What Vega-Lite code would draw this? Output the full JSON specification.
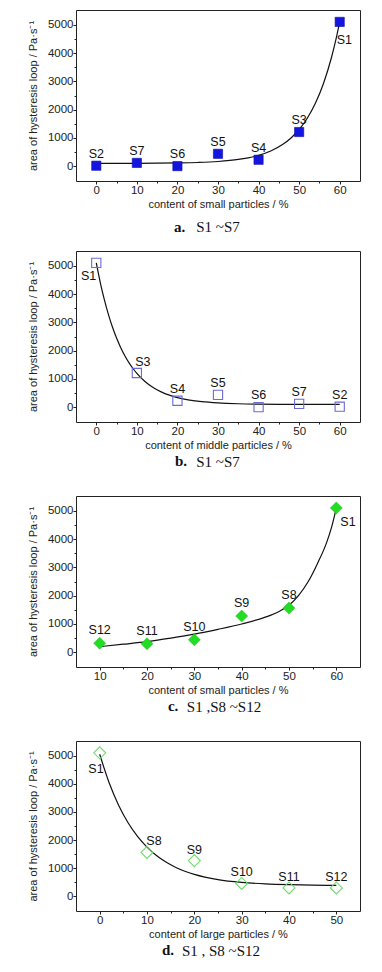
{
  "$schema": "https://vega.github.io/schema/vega-lite/v6.json",
  "background": "white",
  "padding": {"left": 26, "top": 9, "right": 0, "bottom": 0},
  "config": {
    "font": "Liberation Sans",
    "view": {"stroke": "#222222", "strokeWidth": 1},
    "axis": {
      "grid": false,
      "domain": false,
      "labelFont": "Liberation Sans",
      "labelFontSize": 11.5,
      "labelColor": "#222222",
      "labelPadding": 0,
      "tickColor": "#222222",
      "titleFont": "Liberation Sans",
      "titleFontSize": 11,
      "titleFontWeight": "normal",
      "titleColor": "#222222"
    },
    "title": {"font": "Liberation Serif", "fontSize": 15, "color": "#111111"},
    "text": {"font": "Liberation Sans", "fontSize": 12.5, "color": "#111111"}
  },
  "datasets": {
    "pa": [
      {"x": 0, "y": 20, "label": "S2"},
      {"x": 10, "y": 120, "label": "S7"},
      {"x": 20, "y": 5, "label": "S6"},
      {"x": 30, "y": 440, "label": "S5"},
      {"x": 40, "y": 230, "label": "S4"},
      {"x": 50, "y": 1210, "label": "S3"},
      {"x": 60, "y": 5100, "label": "S1"}
    ],
    "pb": [
      {"x": 0, "y": 5100, "label": "S1"},
      {"x": 10, "y": 1210, "label": "S3"},
      {"x": 20, "y": 230, "label": "S4"},
      {"x": 30, "y": 440, "label": "S5"},
      {"x": 40, "y": 5, "label": "S6"},
      {"x": 50, "y": 120, "label": "S7"},
      {"x": 60, "y": 20, "label": "S2"}
    ],
    "pc": [
      {"x": 10, "y": 320, "label": "S12"},
      {"x": 20, "y": 300, "label": "S11"},
      {"x": 30, "y": 440, "label": "S10"},
      {"x": 40, "y": 1280, "label": "S9"},
      {"x": 50, "y": 1560, "label": "S8"},
      {"x": 60, "y": 5100, "label": "S1"}
    ],
    "pd": [
      {"x": 0, "y": 5100, "label": "S1"},
      {"x": 10, "y": 1560, "label": "S8"},
      {"x": 20, "y": 1270, "label": "S9"},
      {"x": 30, "y": 460, "label": "S10"},
      {"x": 40, "y": 300, "label": "S11"},
      {"x": 50, "y": 300, "label": "S12"}
    ],
    "ca": [
      {"x": 0, "y": 101}, {"x": 10, "y": 104}, {"x": 20, "y": 117}, {"x": 25, "y": 134},
      {"x": 30, "y": 169}, {"x": 35, "y": 241}, {"x": 40, "y": 387}, {"x": 43, "y": 541},
      {"x": 46, "y": 777}, {"x": 48, "y": 1001}, {"x": 50, "y": 1299}, {"x": 52, "y": 1696},
      {"x": 54, "y": 2224}, {"x": 56, "y": 2926}, {"x": 58, "y": 3859}, {"x": 59, "y": 4437},
      {"x": 60, "y": 5100}
    ],
    "cb": [
      {"x": 0, "y": 5100}, {"x": 1, "y": 4397}, {"x": 2, "y": 3793}, {"x": 3, "y": 3274},
      {"x": 4, "y": 2828}, {"x": 5, "y": 2444}, {"x": 6, "y": 2115}, {"x": 7, "y": 1831},
      {"x": 8, "y": 1588}, {"x": 9, "y": 1379}, {"x": 10, "y": 1199}, {"x": 12, "y": 912},
      {"x": 14, "y": 699}, {"x": 16, "y": 543}, {"x": 18, "y": 427}, {"x": 20, "y": 341},
      {"x": 23, "y": 253}, {"x": 26, "y": 197}, {"x": 30, "y": 153}, {"x": 35, "y": 125},
      {"x": 40, "y": 112}, {"x": 45, "y": 105}, {"x": 50, "y": 103}, {"x": 60, "y": 100}
    ],
    "cc": [
      {"x": 10, "y": 200}, {"x": 15, "y": 285}, {"x": 20, "y": 375}, {"x": 25, "y": 500},
      {"x": 30, "y": 640}, {"x": 35, "y": 810}, {"x": 40, "y": 1000}, {"x": 45, "y": 1240},
      {"x": 48, "y": 1450}, {"x": 50, "y": 1660}, {"x": 52, "y": 2000}, {"x": 54, "y": 2480},
      {"x": 56, "y": 3130}, {"x": 58, "y": 3900}, {"x": 59, "y": 4420}, {"x": 60, "y": 5090}
    ],
    "cd": [
      {"x": 0, "y": 5050}, {"x": 2, "y": 4035}, {"x": 4, "y": 3239}, {"x": 6, "y": 2617},
      {"x": 8, "y": 2131}, {"x": 10, "y": 1750}, {"x": 12, "y": 1451}, {"x": 14, "y": 1218},
      {"x": 16, "y": 1036}, {"x": 18, "y": 893}, {"x": 20, "y": 782}, {"x": 25, "y": 597},
      {"x": 30, "y": 498}, {"x": 35, "y": 444}, {"x": 40, "y": 415}, {"x": 45, "y": 399},
      {"x": 50, "y": 390}
    ]
  },
  "spacing": 14,
  "vconcat": [
    {
      "title": {"text": "a.", "orient": "bottom", "anchor": "start", "frame": "bounds", "fontWeight": "bold", "offset": 0, "dy": -16, "dx": 147},
      "vconcat": [
        {
          "width": 284,
          "height": 171,
          "title": {"text": "S1  ~S7", "orient": "bottom", "anchor": "middle", "frame": "group", "fontWeight": "normal", "offset": 10.5, "dx": 0},
          "encoding": {
            "x": {"field": "x", "type": "quantitative", "scale": {"domain": [-5, 65], "nice": false, "zero": false},
              "axis": {"title": "content of small particles / %", "titlePadding": 3, "values": [0, 5, 10, 15, 20, 25, 30, 35, 40, 45, 50, 55, 60],
                "labelExpr": "datum.value % 10 === 0 ? datum.label : ''",
                "tickSize": {"condition": {"test": "datum.value % 10 === 0", "value": 3}, "value": 2}}},
            "y": {"field": "y", "type": "quantitative", "scale": {"domain": [-520, 5520], "nice": false, "zero": false},
              "axis": {"title": "area of hysteresis loop / Pa·s⁻¹", "titlePadding": 9, "values": [0, 500, 1000, 1500, 2000, 2500, 3000, 3500, 4000, 4500, 5000],
                "format": "d",
                "labelExpr": "datum.value % 1000 === 0 ? datum.label : ''",
                "tickSize": {"condition": {"test": "datum.value % 1000 === 0", "value": 3}, "value": 2}}}
          },
          "layer": [
            {"data": {"name": "ca"}, "mark": {"type": "line", "interpolate": "monotone", "color": "#111111", "strokeWidth": 1.2}},
            {"data": {"name": "pa"}, "mark": {"type": "point", "shape": "square", "filled": true, "size": 85, "color": "#1515e0", "stroke": "#0c0ca8", "strokeWidth": 0.6, "opacity": 1}},
            {"data": {"name": "pa"}, "transform": [{"filter": "datum.label !== 'S1'"}], "mark": {"type": "text", "align": "center", "baseline": "middle", "dy": -12}, "encoding": {"text": {"field": "label"}}},
            {"data": {"name": "pa"}, "transform": [{"filter": "datum.label === 'S1'"}], "mark": {"type": "text", "align": "left", "baseline": "middle", "dx": -3, "dy": 18}, "encoding": {"text": {"field": "label"}}}
          ]
        }
      ]
    },
    {
      "spacing": 25,
      "vconcat": [
        {
          "title": {"text": "b.", "orient": "bottom", "anchor": "start", "frame": "bounds", "fontWeight": "bold", "offset": 0, "dy": -16, "dx": 148},
          "vconcat": [
            {
              "width": 284,
              "height": 171,
              "title": {"text": "S1  ~S7", "orient": "bottom", "anchor": "middle", "frame": "group", "fontWeight": "normal", "offset": 4, "dx": 0},
              "encoding": {
                "x": {"field": "x", "type": "quantitative", "scale": {"domain": [-5, 65], "nice": false, "zero": false},
                  "axis": {"title": "content of middle particles / %", "titlePadding": 3, "values": [0, 5, 10, 15, 20, 25, 30, 35, 40, 45, 50, 55, 60],
                    "labelExpr": "datum.value % 10 === 0 ? datum.label : ''",
                    "tickSize": {"condition": {"test": "datum.value % 10 === 0", "value": 3}, "value": 2}}},
                "y": {"field": "y", "type": "quantitative", "scale": {"domain": [-520, 5520], "nice": false, "zero": false},
                  "axis": {"title": "area of hysteresis loop / Pa·s⁻¹", "titlePadding": 9, "values": [0, 500, 1000, 1500, 2000, 2500, 3000, 3500, 4000, 4500, 5000],
                    "format": "d",
                    "labelExpr": "datum.value % 1000 === 0 ? datum.label : ''",
                    "tickSize": {"condition": {"test": "datum.value % 1000 === 0", "value": 3}, "value": 2}}}
              },
              "layer": [
                {"data": {"name": "cb"}, "mark": {"type": "line", "interpolate": "monotone", "color": "#111111", "strokeWidth": 1.2}},
                {"data": {"name": "pb"}, "mark": {"type": "point", "shape": "square", "filled": false, "size": 85, "stroke": "#6b6bd4", "strokeWidth": 1.1, "opacity": 1}},
                {"data": {"name": "pb"}, "transform": [{"filter": "datum.label !== 'S1' && datum.label !== 'S3'"}], "mark": {"type": "text", "align": "center", "baseline": "middle", "dy": -12}, "encoding": {"text": {"field": "label"}}},
                {"data": {"name": "pb"}, "transform": [{"filter": "datum.label === 'S3'"}], "mark": {"type": "text", "align": "center", "baseline": "middle", "dx": 6, "dy": -11}, "encoding": {"text": {"field": "label"}}},
                {"data": {"name": "pb"}, "transform": [{"filter": "datum.label === 'S1'"}], "mark": {"type": "text", "align": "right", "baseline": "middle", "dx": 0, "dy": 13}, "encoding": {"text": {"field": "label"}}}
              ]
            }
          ]
        },
        {
          "title": {"text": "c.", "orient": "bottom", "anchor": "start", "frame": "bounds", "fontWeight": "bold", "offset": 0, "dy": -16, "dx": 141},
          "vconcat": [
            {
              "width": 284,
              "height": 171,
              "title": {"text": "S1 ,S8  ~S12", "orient": "bottom", "anchor": "middle", "frame": "group", "fontWeight": "normal", "offset": 4, "dx": 6},
              "encoding": {
                "x": {"field": "x", "type": "quantitative", "scale": {"domain": [5, 65], "nice": false, "zero": false},
                  "axis": {"title": "content of small particles / %", "titlePadding": 3, "values": [10, 15, 20, 25, 30, 35, 40, 45, 50, 55, 60],
                    "labelExpr": "datum.value % 10 === 0 ? datum.label : ''",
                    "tickSize": {"condition": {"test": "datum.value % 10 === 0", "value": 3}, "value": 2}}},
                "y": {"field": "y", "type": "quantitative", "scale": {"domain": [-520, 5520], "nice": false, "zero": false},
                  "axis": {"title": "area of hysteresis loop / Pa·s⁻¹", "titlePadding": 9, "values": [0, 500, 1000, 1500, 2000, 2500, 3000, 3500, 4000, 4500, 5000],
                    "format": "d",
                    "labelExpr": "datum.value % 1000 === 0 ? datum.label : ''",
                    "tickSize": {"condition": {"test": "datum.value % 1000 === 0", "value": 3}, "value": 2}}}
              },
              "layer": [
                {"data": {"name": "cc"}, "mark": {"type": "line", "interpolate": "monotone", "color": "#111111", "strokeWidth": 1.2}},
                {"data": {"name": "pc"}, "mark": {"type": "point", "shape": "diamond", "filled": true, "size": 144, "color": "#22dd22", "stroke": "#1fb81f", "strokeWidth": 0.5, "opacity": 1}},
                {"data": {"name": "pc"}, "transform": [{"filter": "datum.label !== 'S1'"}], "mark": {"type": "text", "align": "center", "baseline": "middle", "dy": -13}, "encoding": {"text": {"field": "label"}}},
                {"data": {"name": "pc"}, "transform": [{"filter": "datum.label === 'S1'"}], "mark": {"type": "text", "align": "left", "baseline": "middle", "dx": 4, "dy": 14}, "encoding": {"text": {"field": "label"}}}
              ]
            }
          ]
        },
        {
          "title": {"text": "d.", "orient": "bottom", "anchor": "start", "frame": "bounds", "fontWeight": "bold", "offset": 0, "dy": -16, "dx": 135},
          "vconcat": [
            {
              "width": 284,
              "height": 170,
              "title": {"text": "S1 , S8  ~S12", "orient": "bottom", "anchor": "middle", "frame": "group", "fontWeight": "normal", "offset": 4, "dx": 3},
              "encoding": {
                "x": {"field": "x", "type": "quantitative", "scale": {"domain": [-5, 55], "nice": false, "zero": false},
                  "axis": {"title": "content of large particles / %", "titlePadding": 3, "values": [0, 5, 10, 15, 20, 25, 30, 35, 40, 45, 50],
                    "labelExpr": "datum.value % 10 === 0 ? datum.label : ''",
                    "tickSize": {"condition": {"test": "datum.value % 10 === 0", "value": 3}, "value": 2}}},
                "y": {"field": "y", "type": "quantitative", "scale": {"domain": [-520, 5520], "nice": false, "zero": false},
                  "axis": {"title": "area of hysteresis loop / Pa·s⁻¹", "titlePadding": 9, "values": [0, 500, 1000, 1500, 2000, 2500, 3000, 3500, 4000, 4500, 5000],
                    "format": "d",
                    "labelExpr": "datum.value % 1000 === 0 ? datum.label : ''",
                    "tickSize": {"condition": {"test": "datum.value % 1000 === 0", "value": 3}, "value": 2}}}
              },
              "layer": [
                {"data": {"name": "cd"}, "mark": {"type": "line", "interpolate": "monotone", "color": "#111111", "strokeWidth": 1.2}},
                {"data": {"name": "pd"}, "mark": {"type": "point", "shape": "diamond", "filled": false, "size": 144, "stroke": "#6fdc6f", "strokeWidth": 1.1, "opacity": 1}},
                {"data": {"name": "pd"}, "transform": [{"filter": "datum.label !== 'S1' && datum.label !== 'S8'"}], "mark": {"type": "text", "align": "center", "baseline": "middle", "dy": -11}, "encoding": {"text": {"field": "label"}}},
                {"data": {"name": "pd"}, "transform": [{"filter": "datum.label === 'S8'"}], "mark": {"type": "text", "align": "center", "baseline": "middle", "dx": 7, "dy": -11}, "encoding": {"text": {"field": "label"}}},
                {"data": {"name": "pd"}, "transform": [{"filter": "datum.label === 'S1'"}], "mark": {"type": "text", "align": "right", "baseline": "middle", "dx": 4, "dy": 16}, "encoding": {"text": {"field": "label"}}}
              ]
            }
          ]
        }
      ]
    }
  ]
}
